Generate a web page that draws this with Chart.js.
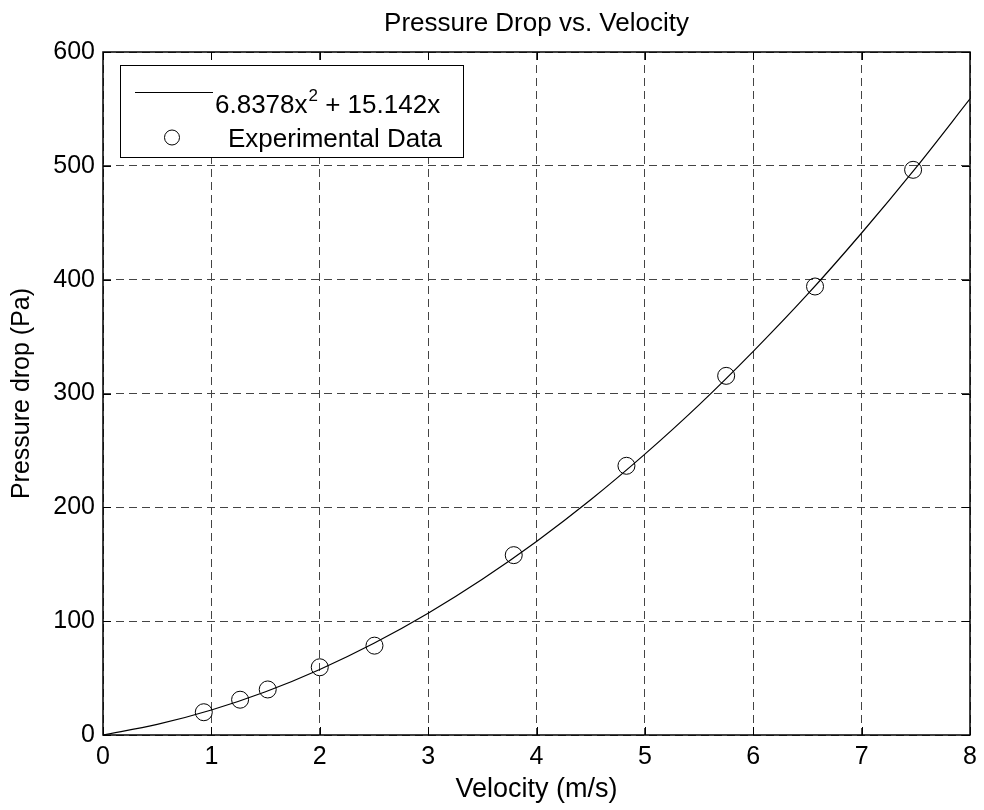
<!DOCTYPE html>
<html lang="en">
<head>
<meta charset="UTF-8">
<title>Pressure Drop vs. Velocity</title>
<script src="https://cdn.jsdelivr.net/npm/chart.js@4.4.0/dist/chart.umd.js"></script>
<style>
    html, body { margin: 0; padding: 0; background: #fff; }
    canvas { display: block; }
</style>
</head>
<body>
<canvas id="pressureChart" width="984" height="810"></canvas>
<script>
    // measured points (m/s, Pa)
    const velocity = [0.93, 1.265, 1.52, 2.0, 2.505, 3.79, 4.83, 5.75, 6.57, 7.475];
    const pressureDrop = [20, 31, 40, 59.5, 78.5, 158, 236.5, 315.5, 394, 496.5];

    // fitted curve, every 0.5 m/s
    const fitVelocity = [0, 0.5, 1, 1.5, 2, 2.5, 3, 3.5, 4, 4.5, 5, 5.5, 6, 6.5, 7, 7.5, 8];
    const fitPressure = [0, 9.3, 22, 38, 57.6, 80.6, 107, 136.8, 170, 206.6, 246.7, 290, 337, 387, 441, 498.2, 558.8];

    const xTicks = [0, 1, 2, 3, 4, 5, 6, 7, 8];
    const yTicks = [0, 100, 200, 300, 400, 500, 600];

    const chartTitle = 'Pressure Drop vs. Velocity';
    const fitLabel = ['6.8378x', '2', ' + 15.142x'];
    const dataLabel = 'Experimental Data';

    const FONT = "'Liberation Sans', Arial, sans-serif";
    Chart.defaults.font.family = FONT;
    Chart.defaults.color = '#000';

    // title over the plot area, box, inward ticks and legend like the matlab figure
    const matlabFrame = {
        id: 'matlabFrame',
        afterDatasetsDraw(chart) {
            const { ctx, chartArea: a, scales } = chart;
            const len = 8;
            ctx.save();
            ctx.strokeStyle = '#000';
            ctx.lineWidth = 1;
            ctx.setLineDash([]);
            ctx.beginPath();
            xTicks.forEach(v => {
                const x = Math.round(scales.x.getPixelForValue(v)) + 0.5;
                ctx.moveTo(x, a.bottom); ctx.lineTo(x, a.bottom - len);
                ctx.moveTo(x, a.top); ctx.lineTo(x, a.top + len);
            });
            yTicks.forEach(v => {
                const y = Math.round(scales.y.getPixelForValue(v)) + 0.5;
                ctx.moveTo(a.left, y); ctx.lineTo(a.left + len, y);
                ctx.moveTo(a.right, y); ctx.lineTo(a.right - len, y);
            });
            ctx.stroke();
            ctx.lineWidth = 1.5;
            ctx.strokeRect(Math.round(a.left), Math.round(a.top), Math.round(a.right - a.left), Math.round(a.bottom - a.top));

            // title
            ctx.fillStyle = '#000';
            ctx.textAlign = 'center';
            ctx.textBaseline = 'middle';
            ctx.font = '26px ' + FONT;
            ctx.fillText(chartTitle, (a.left + a.right) / 2, 24);

            // legend
            const lx = 120, ly = 65, lw = 343, lh = 92;
            ctx.fillStyle = '#fff';
            ctx.fillRect(lx, ly, lw, lh);
            ctx.lineWidth = 1;
            ctx.strokeRect(lx + 0.5, ly + 0.5, lw, lh);

            ctx.beginPath();
            ctx.moveTo(135, 92.5); ctx.lineTo(213, 92.5);
            ctx.stroke();

            ctx.fillStyle = '#000';
            ctx.textBaseline = 'alphabetic';
            ctx.textAlign = 'left';
            ctx.font = '26px ' + FONT;
            let tx = 215;
            ctx.fillText(fitLabel[0], tx, 113);
            tx += ctx.measureText(fitLabel[0]).width;
            ctx.font = '17px ' + FONT;
            ctx.fillText(fitLabel[1], tx + 1, 101);
            tx += ctx.measureText(fitLabel[1]).width + 1;
            ctx.font = '26px ' + FONT;
            ctx.fillText(fitLabel[2], tx, 113);

            ctx.beginPath();
            ctx.arc(172, 137.5, 7.5, 0, Math.PI * 2);
            ctx.stroke();
            ctx.fillText(dataLabel, 228, 147);
            ctx.restore();
        }
    };

    const ctx = document.getElementById('pressureChart').getContext('2d');
    new Chart(ctx, {
        type: 'scatter',
        data: {
            datasets: [
                {
                    label: fitLabel.join(''),
                    data: fitVelocity.map((v, i) => ({ x: v, y: fitPressure[i] })),
                    showLine: true,
                    borderColor: '#000',
                    borderWidth: 1.2,
                    pointRadius: 0,
                    cubicInterpolationMode: 'monotone'
                },
                {
                    label: dataLabel,
                    data: velocity.map((v, i) => ({ x: v, y: pressureDrop[i] })),
                    showLine: false,
                    pointStyle: 'circle',
                    pointRadius: 8.5,
                    pointHoverRadius: 8.5,
                    borderColor: '#000',
                    borderWidth: 1,
                    backgroundColor: 'rgba(0,0,0,0)'
                }
            ]
        },
        options: {
            responsive: false,
            animation: false,
            devicePixelRatio: 1,
            layout: { padding: { top: 52, right: 14, bottom: 0, left: 0 } },
            plugins: {
                legend: { display: false },
                tooltip: { enabled: false },
                title: { display: false }
            },
            scales: {
                x: {
                    type: 'linear',
                    min: 0,
                    max: 8,
                    afterBuildTicks: s => { s.ticks = xTicks.map(v => ({ value: v })); },
                    afterFit: s => { s.height = 75; },
                    ticks: { font: { size: 25 }, color: '#000', padding: 7, maxRotation: 0 },
                    grid: { color: '#444', lineWidth: 1, drawTicks: false },
                    border: { display: false, dash: [8, 5] },
                    title: {
                        display: true,
                        text: 'Velocity (m/s)',
                        color: '#000',
                        font: { size: 27, lineHeight: 1.2 },
                        padding: { top: 0, bottom: 4 }
                    }
                },
                y: {
                    type: 'linear',
                    min: 0,
                    max: 600,
                    afterBuildTicks: s => { s.ticks = yTicks.map(v => ({ value: v })); },
                    afterFit: s => { s.width = 103; },
                    ticks: { font: { size: 25 }, color: '#000', padding: 8 },
                    grid: { color: '#444', lineWidth: 1, drawTicks: false },
                    border: { display: false, dash: [8, 5] },
                    title: {
                        display: true,
                        text: 'Pressure drop (Pa)',
                        color: '#000',
                        font: { size: 25, lineHeight: 1.2 },
                        padding: { top: 7, bottom: 0 }
                    }
                }
            }
        },
        plugins: [matlabFrame]
    });
</script>
</body>
</html>
